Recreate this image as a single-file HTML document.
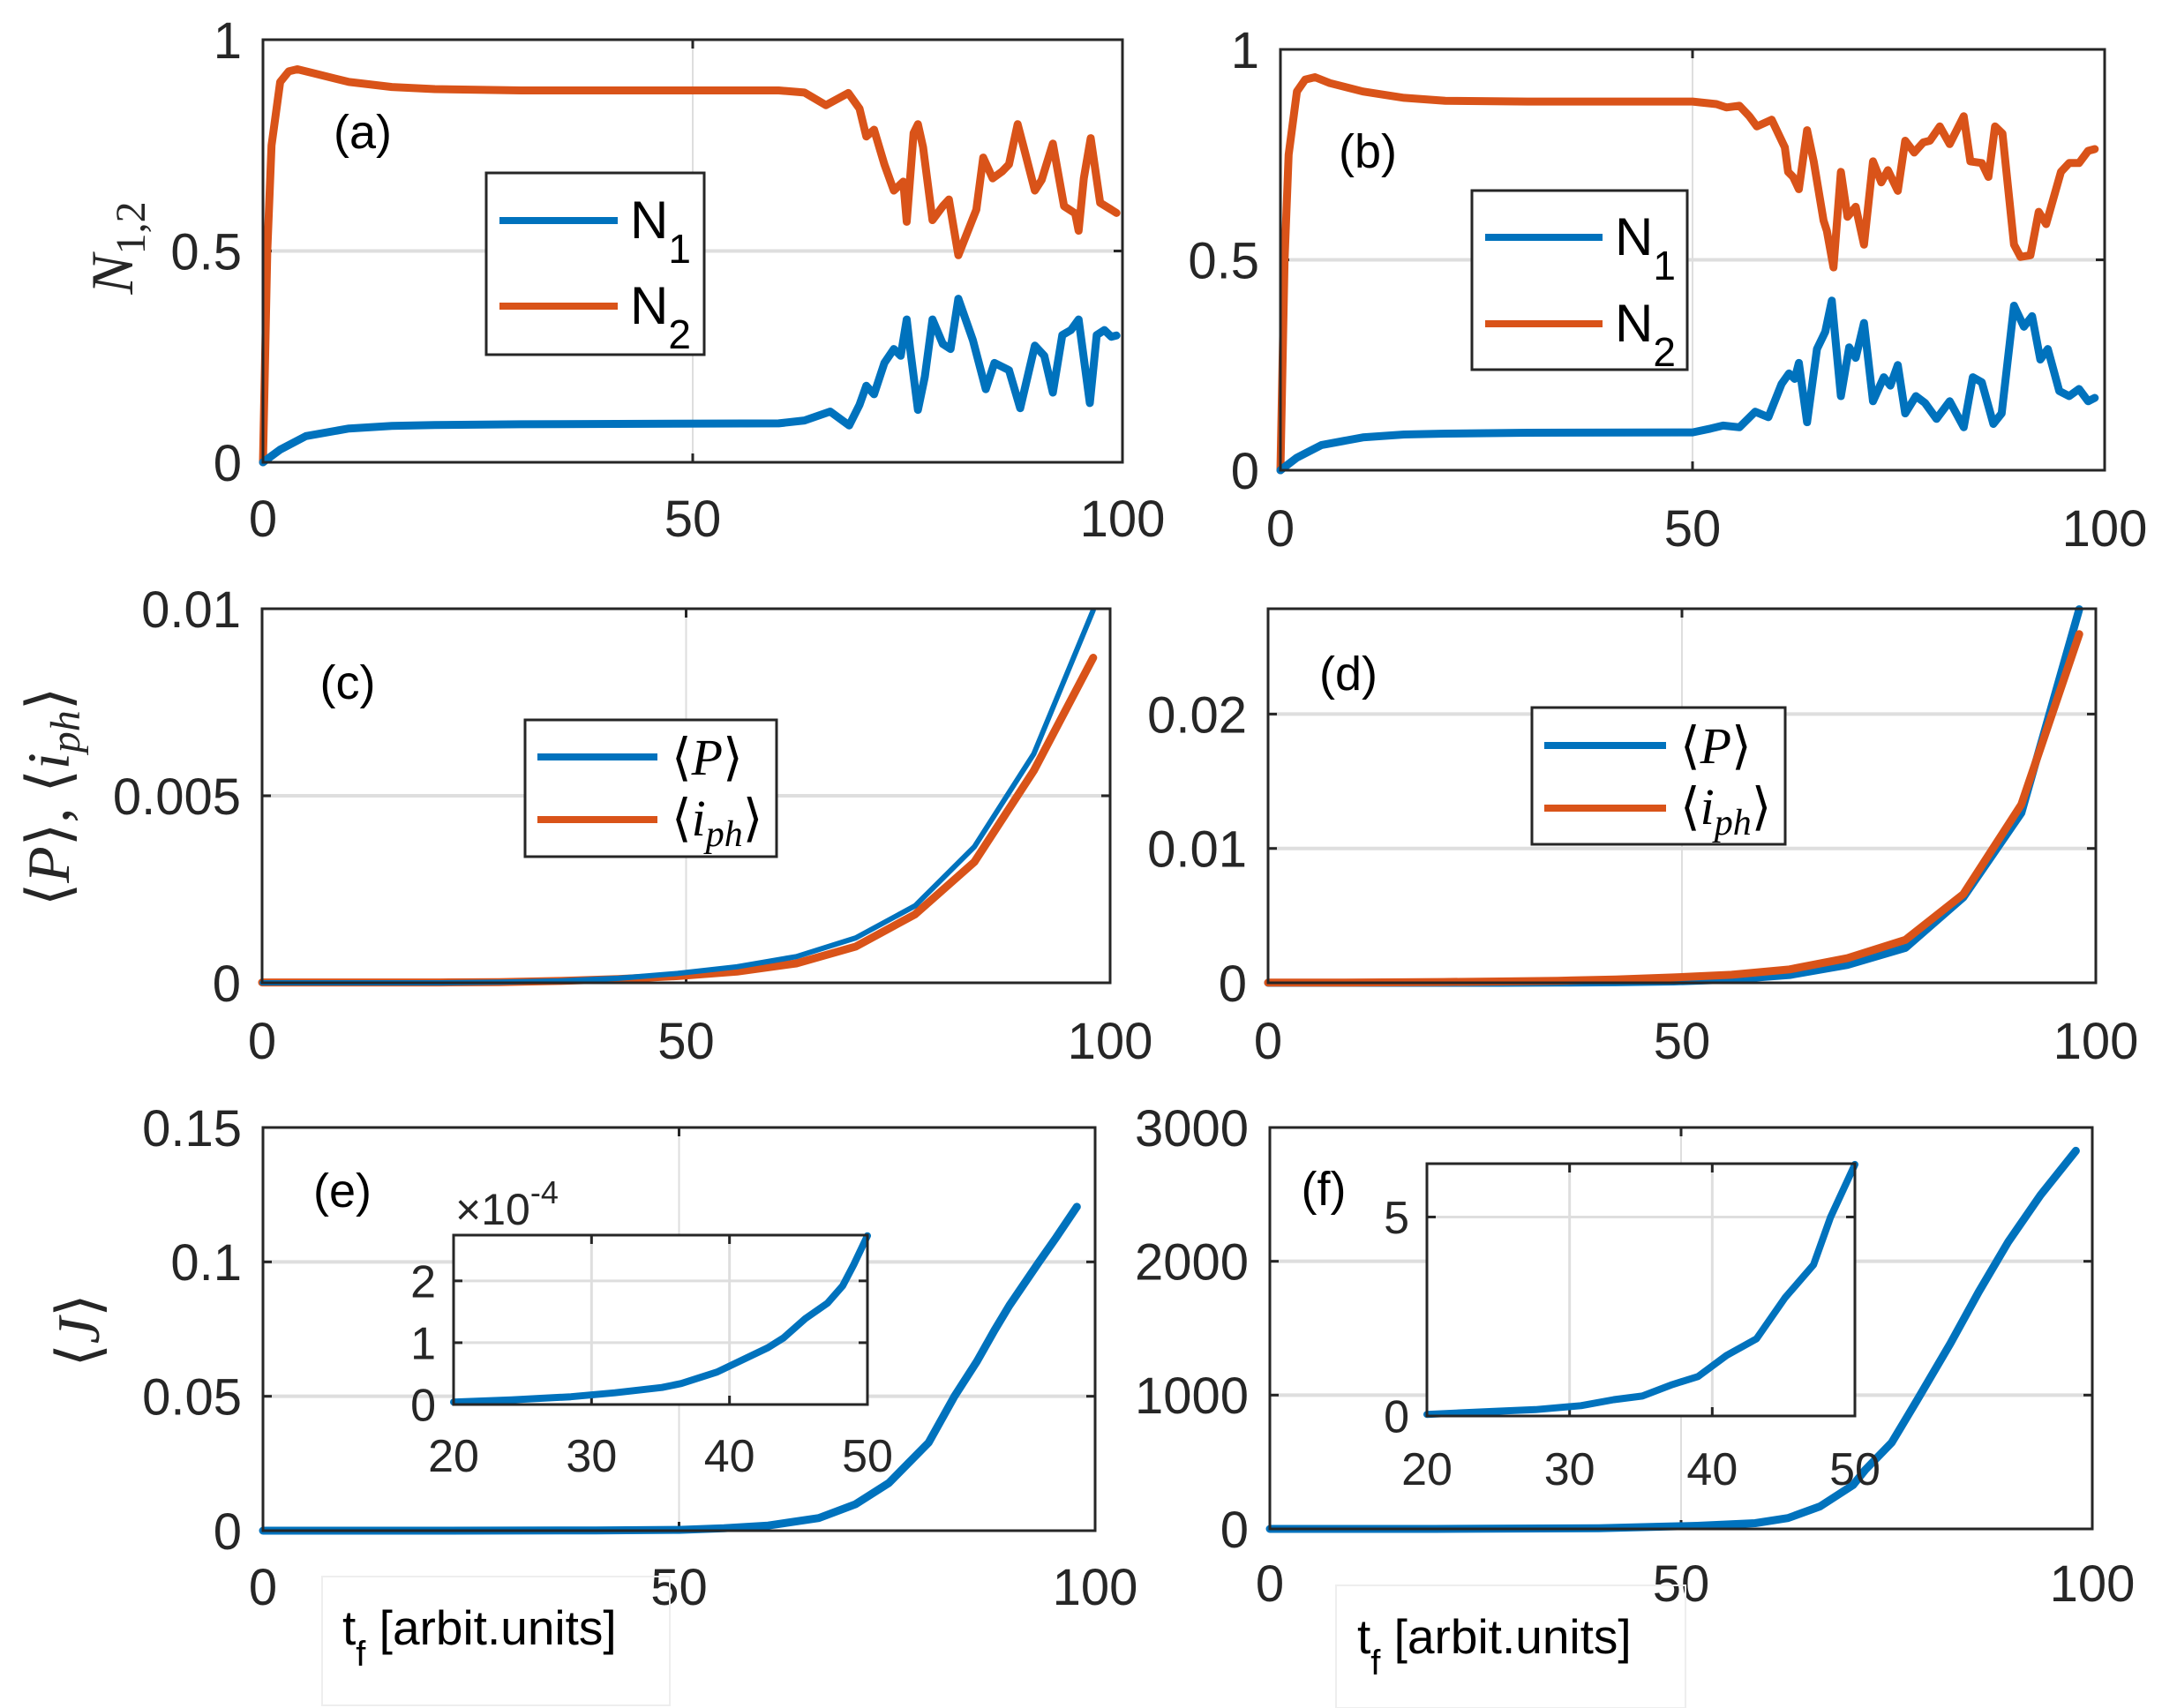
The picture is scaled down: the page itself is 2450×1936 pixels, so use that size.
<!DOCTYPE html>
<html><head><meta charset="utf-8"><style>
html,body{margin:0;padding:0;background:#fff;}
svg{display:block;font-family:"Liberation Sans",sans-serif;}
</style></head><body>
<svg id="fig" width="2450" height="1936" viewBox="0 0 2450 1936" xmlns="http://www.w3.org/2000/svg">
<rect width="2450" height="1936" fill="#fff"/>
</svg>
<script>
// ---- data (a)
const n2aT=[0,0.5,1,2,3,4,6,10,15,20,30,60,63,65.5,68.1,69.4,70.2,71.1,72.3,73.4,74.5,74.9,75.7,76.2,76.8,77.9,79.1,79.8,80.9,83,83.8,84.9,86,86.8,87.8,88.5,89.8,90.6,91.9,93.2,94.5,94.9,95.5,96.3,97.4,98.7,99.3];
const n2aV=[0,0.5,0.75,0.9,0.925,0.93,0.92,0.9,0.888,0.883,0.88,0.88,0.875,0.845,0.874,0.837,0.771,0.787,0.705,0.643,0.664,0.569,0.779,0.8,0.746,0.573,0.606,0.622,0.49,0.598,0.721,0.672,0.688,0.705,0.8,0.746,0.643,0.668,0.754,0.606,0.589,0.548,0.672,0.767,0.614,0.598,0.59];
const n1aT=[0,2,5,10,15,20,30,60,63,66,68.2,69.4,70.2,71.1,72.3,73.4,74.2,74.9,75.3,76.2,77,77.9,79.1,80,80.9,82.6,84.1,85.1,86.8,88.1,89.8,90.9,91.9,93,94,94.9,96.2,97,97.9,98.7,99.3];
const n1aV=[0,0.03,0.062,0.08,0.086,0.088,0.09,0.092,0.099,0.12,0.087,0.136,0.181,0.161,0.235,0.268,0.252,0.338,0.268,0.124,0.202,0.338,0.28,0.268,0.387,0.289,0.173,0.235,0.218,0.128,0.276,0.252,0.165,0.301,0.313,0.338,0.14,0.301,0.313,0.297,0.3];
// ---- data (b)
const n2bT=[0,0.5,1,2,3,4.2,6,10,15,20,30,50,51,52.9,54.1,55.7,56.9,57.8,59.6,61.2,61.6,62.2,62.9,63.9,64.7,65.9,66.3,67.1,68,68.8,69.8,70.8,71.9,72.9,73.7,74.9,75.8,76.9,78,78.8,80,81.2,82.9,83.7,85.1,85.9,86.7,87.6,89,89.8,91,92,92.9,94.7,95.7,96.9,98,98.8];
const n2bV=[0,0.5,0.75,0.9,0.928,0.934,0.92,0.9,0.885,0.878,0.876,0.876,0.874,0.87,0.862,0.866,0.841,0.817,0.833,0.767,0.709,0.697,0.668,0.808,0.734,0.593,0.569,0.482,0.709,0.602,0.626,0.536,0.734,0.684,0.713,0.664,0.783,0.755,0.779,0.783,0.817,0.775,0.841,0.734,0.73,0.697,0.817,0.8,0.536,0.507,0.511,0.614,0.585,0.709,0.73,0.73,0.759,0.763];
const n1bT=[0,2,5,10,15,20,30,50,52.2,53.7,55.7,57.6,59.2,60.8,61.7,62.4,62.9,63.9,65.1,66.1,66.9,68,69,69.8,70.8,71.9,73.2,74,74.9,75.8,77.1,78.2,79.6,81.2,82.9,84,85.1,86.5,87.5,89,90.2,91.2,92.2,93.1,94.5,95.7,96.9,98,98.8];
const n1bV=[0,0.03,0.06,0.078,0.085,0.087,0.089,0.09,0.099,0.106,0.102,0.139,0.126,0.205,0.23,0.217,0.255,0.114,0.288,0.329,0.403,0.176,0.292,0.267,0.35,0.164,0.221,0.201,0.25,0.135,0.176,0.16,0.122,0.164,0.102,0.221,0.209,0.11,0.135,0.391,0.341,0.366,0.263,0.288,0.188,0.176,0.193,0.164,0.172];
// ---- data (c),(d)
const tCD=[0,7,14,21,28,35,42,49,56,63,70,77,84,91,98];
const pC=[0,0,0,0,0.00002,0.00005,0.00012,0.00025,0.00043,0.0007,0.0012,0.00206,0.00364,0.00612,0.00996];
const iC=[0.00001,0.00001,0.00001,0.00001,0.00002,0.00005,0.0001,0.00018,0.0003,0.00052,0.00097,0.00183,0.00323,0.00567,0.00869];
const pD=[0,0,0,0,0,0.00001,0.00004,0.0001,0.00025,0.00058,0.00133,0.0026,0.00636,0.01264,0.0278];
const iD=[0.00001,0.00001,0.00003,0.00006,0.0001,0.00015,0.00025,0.0004,0.0006,0.001,0.00183,0.0032,0.0066,0.01327,0.02595];
// ---- data (e)
const jeT=[0,20,40,50,55.4,60.7,66.8,71.2,75.2,80,83.1,85.8,87.9,89.7,93.2,95.3,97.8];
const jeV=[0,0,0.0001,0.0003,0.0009,0.0019,0.0047,0.0098,0.0177,0.0328,0.05,0.063,0.0745,0.0838,0.0997,0.109,0.1205];
const jeInT=[20,24.2,28.5,31.7,35.1,36.5,39.1,42.8,43.9,45.5,47.1,48.2,49,50];
const jeInV=[0.04,0.075,0.125,0.19,0.275,0.34,0.525,0.92,1.075,1.39,1.64,1.92,2.26,2.73];
// ---- data (f)
const jfT=[0,20,40,52,59,63,66.9,70.9,72.4,75.6,78.7,82.7,86.2,89.8,93.7,98];
const jfV=[0,0,5,23,43,81,168,327,442,644,962,1381,1772,2147,2494,2826];
const jfInT=[20,24.9,27.6,30.8,33.1,35.1,37.2,39,41,43.1,45.1,47.1,48.3,50];
const jfInV=[0.04,0.12,0.16,0.26,0.41,0.5,0.79,0.99,1.52,1.94,2.97,3.8,5.0,6.32];

const xTicks=[0,50,100];
const BLUE="#0072BD", ORANGE="#D95319", GRID="#dedede", AX="#262626";
const svg=document.getElementById('fig');
const NS="http://www.w3.org/2000/svg";
function mk(tag,attrs,parent){const e=document.createElementNS(NS,tag);for(const k in attrs)e.setAttribute(k,attrs[k]);(parent||svg).appendChild(e);return e;}

function axes(name,box,xd,yd,xt,yt,ylabFmt,opts){
  const g=mk('g',{});
  
  
  const sx=v=>box.x0+(v-xd[0])/(xd[1]-xd[0])*(box.x1-box.x0);
  const sy=v=>box.y1-(v-yd[0])/(yd[1]-yd[0])*(box.y1-box.y0);
  mk('rect',{x:box.x0,y:box.y0,width:box.x1-box.x0,height:box.y1-box.y0,fill:'#fff'},g);
  xt.forEach(t=>{if(t>xd[0]&&t<xd[1]){const l=mk('line',{x1:sx(t),x2:sx(t),y1:box.y0,y2:box.y1,stroke:GRID,'stroke-width':opts.gw||2},g);
    }});
  yt.forEach(t=>{if(t>yd[0]&&t<yd[1]){const l=mk('line',{x1:box.x0,x2:box.x1,y1:sy(t),y2:sy(t),stroke:GRID,'stroke-width':opts.gw||4},g);
    }});
  const fs=opts.fs||58;
  xt.forEach(t=>{const tx=mk('text',{x:sx(t),y:box.y1+opts.xlOff,'font-size':fs,'text-anchor':'middle',fill:AX},g);tx.textContent=t;
    
    mk('line',{x1:sx(t),x2:sx(t),y1:box.y1,y2:box.y1-10,stroke:AX,'stroke-width':3},g);
    mk('line',{x1:sx(t),x2:sx(t),y1:box.y0,y2:box.y0+10,stroke:AX,'stroke-width':3},g);});
  yt.forEach(t=>{const tx=mk('text',{x:box.x0-(opts.ylOff||24),y:sy(t)+fs*0.36,'font-size':fs,'text-anchor':'end',fill:AX},g);tx.textContent=ylabFmt(t);
    
    mk('line',{x1:box.x0,x2:box.x0+10,y1:sy(t),y2:sy(t),stroke:AX,'stroke-width':3},g);
    mk('line',{x1:box.x1,x2:box.x1-10,y1:sy(t),y2:sy(t),stroke:AX,'stroke-width':3},g);});
  return {g,sx,sy,box};
}
function series(ax,T,V,color,name,w){
  const d=T.map((t,i)=>(i?'L':'M')+ax.sx(t).toFixed(1)+','+ax.sy(V[i]).toFixed(1)).join('');
  const p=mk('path',{d:d,fill:'none',stroke:color,'stroke-width':w||9,'stroke-linejoin':'round','stroke-linecap':'round'},ax.g);
  
  
}
function frame(ax){
  const b=ax.box;
  const r=mk('rect',{x:b.x0,y:b.y0,width:b.x1-b.x0,height:b.y1-b.y0,fill:'none',stroke:AX,'stroke-width':3},ax.g);
  
  
}
function label(txt,x,y,name){
  const t=mk('text',{x:x,y:y,'font-size':54,'text-anchor':'middle',fill:'#000'});
  t.textContent=txt;
  
  
}
function legendN(x0,y0,x1,y1,ly1,ly2,lx0,lx1,name){
  const g=mk('g',{});
  
  
  mk('rect',{x:x0,y:y0,width:x1-x0,height:y1-y0,fill:'#fff',stroke:AX,'stroke-width':3},g);
  [[ly1,BLUE,'1'],[ly2,ORANGE,'2']].forEach(([y,c,s])=>{
    mk('line',{x1:lx0,x2:lx1,y1:y,y2:y,stroke:c,'stroke-width':8},g);
    const t=mk('text',{x:lx1+14,y:y+20,'font-size':60,fill:'#000'},g);
    t.innerHTML='N<tspan font-size="46" dy="28">'+s+'</tspan>';
    
  });
}
function legendP(x0,y0,x1,y1,ly1,ly2,lx0,lx1,name){
  const g=mk('g',{});
  
  
  mk('rect',{x:x0,y:y0,width:x1-x0,height:y1-y0,fill:'#fff',stroke:AX,'stroke-width':3},g);
  const t1=mk('text',{x:lx1+16,y:ly1+20,'font-size':58,fill:'#000','font-family':'"Liberation Serif","DejaVu Serif",serif'},g);
  t1.innerHTML='⟨<tspan font-style="italic">P</tspan>⟩';
  
  const t2=mk('text',{x:lx1+16,y:ly2+18,'font-size':58,fill:'#000','font-family':'"Liberation Serif","DejaVu Serif",serif'},g);
  t2.innerHTML='⟨<tspan font-style="italic">i</tspan><tspan font-style="italic" font-size="42" dy="12">ph</tspan><tspan dy="-12">⟩</tspan>';
  
  mk('line',{x1:lx0,x2:lx1,y1:ly1,y2:ly1,stroke:BLUE,'stroke-width':8},g);
  mk('line',{x1:lx0,x2:lx1,y1:ly2,y2:ly2,stroke:ORANGE,'stroke-width':8},g);
}
const f01=t=>String(t);
// (a)
let A=axes('panel-a',{x0:298,x1:1272,y0:45,y1:524},[0,100],[0,1],xTicks,[0,0.5,1],f01,{xlOff:84});
series(A,n2aT,n2aV,ORANGE,'series-n2');series(A,n1aT,n1aV,BLUE,'series-n1');frame(A);
label('(a)',411,168,'panel-label-a');
legendN(551,196,798,402,250,347,566,700,'legend-a');
// (b)
let B=axes('panel-b',{x0:1451,x1:2385,y0:56,y1:533},[0,100],[0,1],xTicks,[0,0.5,1],f01,{xlOff:86});
series(B,n2bT,n2bV,ORANGE,'series-n2');series(B,n1bT,n1bV,BLUE,'series-n1');frame(B);
label('(b)',1550,190,'panel-label-b');
legendN(1668,216,1912,419,269,367,1683,1816,'legend-b');
// (c)
let C=axes('panel-c',{x0:297,x1:1258,y0:690,y1:1114},[0,100],[0,0.01],xTicks,[0,0.005,0.01],f01,{xlOff:86});
series(C,tCD,iC,ORANGE,'series-iph');series(C,tCD,pC,BLUE,'series-p',6);frame(C);
label('(c)',394,792,'panel-label-c');
legendP(595,816,880,971,858,929,609,745,'legend-c');
// (d)
let D=axes('panel-d',{x0:1437,x1:2375,y0:690,y1:1114},[0,100],[0,0.02784],xTicks,[0,0.01,0.02],f01,{xlOff:86});
series(D,tCD,pD,BLUE,'series-p');series(D,tCD,iD,ORANGE,'series-iph');frame(D);
label('(d)',1528,782,'panel-label-d');
legendP(1736,802,2023,957,845,916,1750,1888,'legend-d');
// (e)
let E=axes('panel-e',{x0:298,x1:1241,y0:1278,y1:1735},[0,100],[0,0.15],xTicks,[0,0.05,0.1,0.15],f01,{xlOff:84});
series(E,jeT,jeV,BLUE,'series-j');frame(E);
label('(e)',388,1368,'panel-label-e');
let EI=axes('inset-e',{x0:514,x1:983,y0:1400,y1:1592},[20,50],[0,2.74],[20,30,40,50],[0,1,2],f01,{xlOff:76,fs:52,ylOff:20,gw:3});
series(EI,jeInT,jeInV,BLUE,'inset-series-j',8);frame(EI);
const ex=mk('text',{x:516,y:1388,'font-size':50,fill:AX});ex.innerHTML='×10<tspan font-size="36" dy="-24">-4</tspan>';

// (f)
let F=axes('panel-f',{x0:1439,x1:2371,y0:1278,y1:1733},[0,100],[0,3000],xTicks,[0,1000,2000,3000],f01,{xlOff:82});
series(F,jfT,jfV,BLUE,'series-j');frame(F);
label('(f)',1500,1366,'panel-label-f');
let FI=axes('inset-f',{x0:1617,x1:2102,y0:1319,y1:1605},[20,50],[0,6.34],[20,30,40,50],[0,5],f01,{xlOff:78,fs:52,ylOff:20,gw:3});
series(FI,jfInT,jfInV,BLUE,'inset-series-j',8);frame(FI);
// axis titles
function ytitle(x,y,html,name){const t=mk('text',{x:0,y:0,'font-size':68,'text-anchor':'middle',fill:AX,'font-family':'"Liberation Serif","DejaVu Serif",serif',transform:'translate('+x+','+y+') rotate(-90)'});t.innerHTML=html;
  }
ytitle(150,281,'<tspan font-style="italic">N</tspan><tspan font-size="48" dy="14">1,2</tspan>','y-axis-title-n');
ytitle(78,903,'⟨<tspan font-style="italic">P</tspan>⟩, ⟨<tspan font-style="italic">i</tspan><tspan font-style="italic" font-size="48" dy="12">ph</tspan><tspan dy="-12">⟩</tspan>','y-axis-title-p-iph');
ytitle(112,1508,'⟨<tspan font-style="italic">J</tspan>⟩','y-axis-title-j');
function xtitle(bx,by,bw,bh,tx,ty,name){
  const g=mk('g',{});
  mk('rect',{x:bx,y:by,width:bw,height:bh,fill:'none',stroke:'#eeeeee','stroke-width':2},g);
  const t=mk('text',{x:tx,y:ty,'font-size':55,fill:'#000'},g);
  t.innerHTML='t<tspan font-size="40" dy="24">f</tspan><tspan dy="-24"> [arbit.units]</tspan>';
}
xtitle(365,1787,394,146,388,1864,'x-axis-title-e');
xtitle(1514,1797,396,139,1538,1874,'x-axis-title-f');
</script>
</body></html>
